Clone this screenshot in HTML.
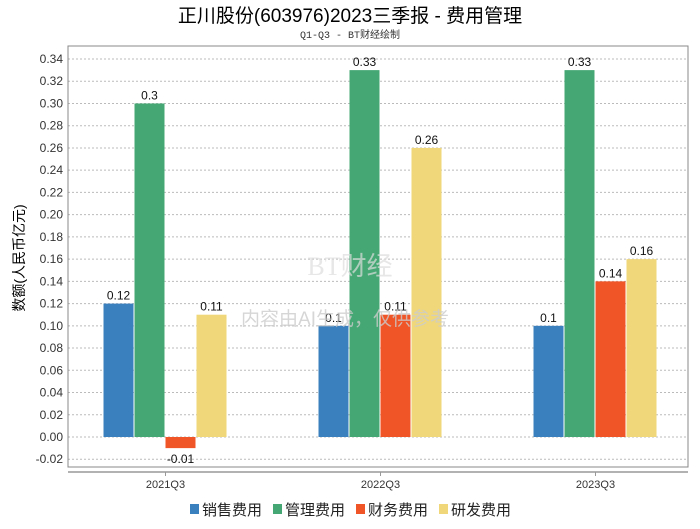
<!DOCTYPE html>
<html><head><meta charset="utf-8"><style>
body{margin:0;background:#fff;font-family:"Liberation Sans","Noto Sans CJK SC",sans-serif}
</style></head><body>
<svg id="c" width="700" height="524" xmlns="http://www.w3.org/2000/svg">
<text x="350" y="22" text-anchor="middle" font-size="19" font-family="Liberation Sans, Noto Sans CJK SC, sans-serif">正川股份(603976)2023三季报 - 费用管理</text>
<text x="350" y="38" text-anchor="middle" font-size="10" fill="#333" font-family="Liberation Mono, Noto Sans CJK SC, monospace">Q1-Q3 - BT财经绘制</text>
<text transform="translate(24,258) rotate(-90)" text-anchor="middle" font-size="14" font-family="Liberation Sans, Noto Sans CJK SC, sans-serif">数额(人民币亿元)</text>
<g id="grid"></g><g id="bars"></g>
<text x="350" y="275" text-anchor="middle" font-size="26" fill="#ddd" opacity="0.7" font-family="Liberation Serif, serif">BT财经</text>
<text x="345" y="325" text-anchor="middle" font-size="19" fill="#ccc" opacity="0.8" font-family="Liberation Sans, Noto Sans CJK SC, sans-serif">内容由AI生成，仅供参考</text>
<g id="legend"></g>
</svg>
<script>
const categories=["2021Q3","2022Q3","2023Q3"];
const seriesNames=["销售费用","管理费用","财务费用","研发费用"];
const sales=[0.12,0.1,0.1];
const admin=[0.3,0.33,0.33];
const finance=[-0.01,0.11,0.14];
const rnd=[0.11,0.26,0.16];
const yTicks=[-0.02,0,0.02,0.04,0.06,0.08,0.10,0.12,0.14,0.16,0.18,0.20,0.22,0.24,0.26,0.28,0.30,0.32,0.34];
const colors=["#3a80be","#45a874","#f05527","#efd77a"];
const NS="http://www.w3.org/2000/svg";
const L=68,R=688,T=46,B=467;
const y=v=>437-v*1111.76;
const x=i=>165.5+215*i;
function mk(tag,attrs,p){const e=document.createElementNS(NS,tag);for(const k in attrs)e.setAttribute(k,attrs[k]);p.appendChild(e);return e;}
const g=document.getElementById('grid');
yTicks.forEach(v=>{
 const ln=mk('line',{x1:L,x2:R,y1:y(v),y2:y(v),stroke:'#bbb','stroke-dasharray':'2,2','stroke-width':1},g);
 
 
 const t=mk('text',{x:L-5,y:y(v)+4,'text-anchor':'end','font-size':12,fill:'#333'},g);
 t.textContent=v.toFixed(2);
 
 
});
const box=mk('rect',{x:L,y:T,width:R-L,height:B-T,fill:'none',stroke:'#888','stroke-width':1},g);


const xa=mk('line',{x1:L,x2:R,y1:472,y2:472,stroke:'#999','stroke-width':1.5},g);


const b=document.getElementById('bars');
const series=[sales,admin,finance,rnd];
categories.forEach((c,i)=>{
 const cx=x(i);
 const tk=mk('line',{x1:cx,x2:cx,y1:472,y2:476,stroke:'#999'},b);
 
 
 const lt=mk('text',{x:cx,y:488,'text-anchor':'middle','font-size':11,fill:'#333'},b);
 lt.textContent=c;
 
 
 series.forEach((s,j)=>{
  const v=s[i];const bx=cx-62+j*31;const y0=y(0),y1=y(v);
  const r=mk('rect',{x:bx,y:Math.min(y0,y1),width:30,height:Math.abs(y1-y0),fill:colors[j]},b);
  
  
  const t=mk('text',{x:bx+15,y:v>=0?y1-4:y1+15,'text-anchor':'middle','font-size':12,fill:'#111'},b);
  t.textContent=String(v);
  
  
 });
});
const lg=document.getElementById('legend');
let lx=190;
seriesNames.forEach((n,j)=>{
 const r=mk('rect',{x:lx,y:504,width:9,height:10,fill:colors[j]},lg);
 
 
 const t=mk('text',{x:lx+12,y:515,'font-size':15,fill:'#222'},lg);
 t.textContent=n;
 
 
 lx+=83;
});
</script>
</body></html>
